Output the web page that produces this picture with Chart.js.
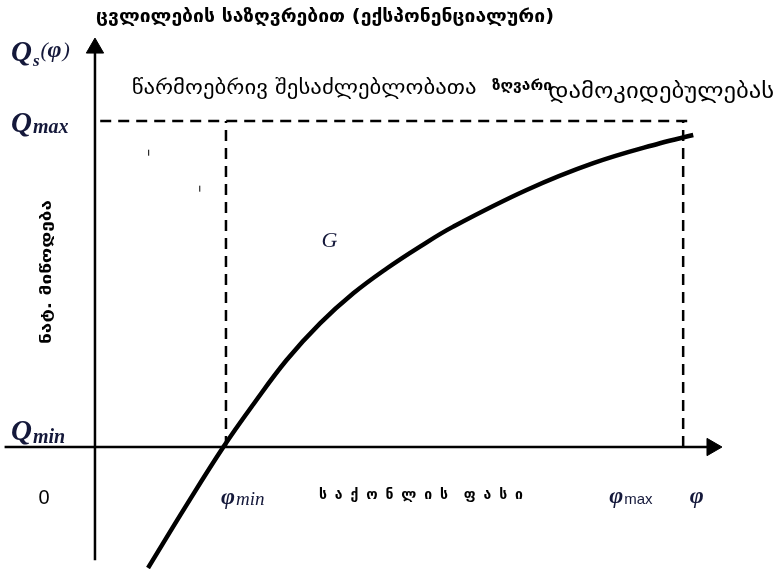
<!DOCTYPE html>
<html>
<head>
<meta charset="utf-8">
<script src="https://cdn.jsdelivr.net/npm/chart.js@4/dist/chart.umd.min.js"></script>
<style>
html,body{margin:0;padding:0;background:#fff;}
#wrap{width:778px;height:569px;position:relative;}
</style>
</head>
<body>
<div id="wrap"><canvas id="c" width="778" height="569"></canvas></div>
<script>
// ---- data (diagram units: φ along x, Q along y) ----
const curvePhi = [0.405, 0.695, 0.98, 1.208, 1.463, 1.718, 1.972, 2.227, 2.481, 2.735, 3.295, 3.804, 4.313, 4.567];
const curveQ   = [-3.70, -1.80, 0.00, 1.30, 2.66, 3.78, 4.70, 5.46, 6.13, 6.74, 7.86, 8.68, 9.29, 9.54];
const phiMin = 1.0;
const phiMax = 4.49;
const qMax = 9.97;
const qMin = 0;
const xAxisRange = [-0.69, 4.71];
const yAxisRange = [-3.46, 12.2];
const qMaxLineRange = [0.04, 4.56];
const smallTicksPhi = [0.41, 0.80];
const smallTicksQ = [9.0, 7.9];

const titleText = "ცვლილების საზღვრებით (ექსპონენციალური)";
const frontierText = "წარმოებრივ შესაძლებლობათა";
const frontierWord = "ზღვარი";
const dependText = "დამოკიდებულებას";
const yLabelText = "ნატ. მიწოდება";
const xLabelText = "საქონლის ფასი";
const originLabel = "0";

const pts = (xs, ys) => xs.map((x, i) => ({x, y: ys[i]}));

const dashed = {borderColor:'#000', borderWidth:2.5, borderDash:[11,7], pointRadius:0, fill:false, tension:0};
const solid = {borderColor:'#000', borderWidth:2.5, pointRadius:0, fill:false, tension:0};

const datasets = [
  Object.assign({data:[{x:xAxisRange[0],y:0},{x:xAxisRange[1],y:0}]}, solid),
  Object.assign({data:[{x:0,y:yAxisRange[0]},{x:0,y:yAxisRange[1]}]}, solid),
  // arrow heads
  {data:[{x:xAxisRange[1],y:0}], pointStyle:'triangle', rotation:90, pointRadius:10, backgroundColor:'#000', borderColor:'#000', borderWidth:1, showLine:false},
  {data:[{x:0,y:yAxisRange[1]}], pointStyle:'triangle', rotation:0, pointRadius:10, backgroundColor:'#000', borderColor:'#000', borderWidth:1, showLine:false},
  // dashed guides
  Object.assign({data:[{x:qMaxLineRange[0],y:qMax},{x:qMaxLineRange[1],y:qMax}]}, dashed),
  Object.assign({data:[{x:phiMin,y:qMin},{x:phiMin,y:qMax}]}, dashed),
  Object.assign({data:[{x:phiMax,y:qMin},{x:phiMax,y:qMax}]}, dashed),
  // small tick marks
  {data:pts(smallTicksPhi, smallTicksQ), pointStyle:'line', rotation:90, pointRadius:3, borderColor:'#000', borderWidth:1, showLine:false},
  // curve
  {data:pts(curvePhi, curveQ), borderColor:'#000', borderWidth:4.5, pointRadius:0, fill:false, tension:0.4, showLine:true}
];

const navy = '#14183a';
function fitText(ctx, text, x, y, w, font, color){
  ctx.save();
  ctx.font = font; ctx.fillStyle = color || '#000';
  ctx.textBaseline = 'middle'; ctx.textAlign = 'left';
  const m = ctx.measureText(text).width;
  ctx.translate(x, y); ctx.scale(w / m, 1);
  ctx.fillText(text, 0, 0);
  ctx.restore();
}
function spacedText(ctx, text, x, y, w, font, color){
  ctx.save();
  ctx.font = font; ctx.fillStyle = color || '#000';
  ctx.textBaseline = 'middle'; ctx.textAlign = 'left';
  const chars = [...text].filter(c => c !== ' ');
  const total = chars.reduce((s,c)=>s+ctx.measureText(c).width,0);
  const gaps = [...text].length - 1;
  const gap = (w - total) / gaps;
  let cx = x;
  for (const c of text) {
    if (c !== ' ') { ctx.fillText(c, cx, y); cx += ctx.measureText(c).width + gap; }
    else cx += gap;
  }
  ctx.restore();
}
function mathLabel(ctx, x, y, main, sub, mainFont, subFont, subDy, color){
  ctx.save();
  ctx.fillStyle = color; ctx.textBaseline = 'alphabetic'; ctx.textAlign = 'left';
  ctx.font = mainFont; ctx.fillText(main, x, y);
  const w = ctx.measureText(main).width;
  ctx.font = subFont; ctx.fillText(sub, x + w + 1, y + subDy);
  const w2 = ctx.measureText(sub).width;
  ctx.restore();
  return x + w + 1 + w2;
}

const labelsPlugin = {
  id:'labels',
  afterDatasetsDraw(chart){
    const ctx = chart.ctx;
    const xs = chart.scales.x, ys = chart.scales.y;
    const px = v => xs.getPixelForValue(v), py = v => ys.getPixelForValue(v);
    const geo = '"DejaVu Sans"';
    // title & top texts
    fitText(ctx, titleText, px(0) + 1, 18, 458, 'bold 17px ' + geo, '#000');
    fitText(ctx, frontierText, px(0.28), 89, 345, '19px ' + geo, '#000');
    fitText(ctx, frontierWord, px(3.03), 86, 60, 'bold 15px ' + geo, '#000');
    fitText(ctx, dependText, px(3.46), 93, 226, '21px ' + geo, '#000');
    // y axis label (rotated)
    ctx.save();
    ctx.translate(47, 272);
    ctx.rotate(-Math.PI/2);
    fitText(ctx, yLabelText, -72, 0, 144, 'bold 14px ' + geo, '#000');
    ctx.restore();
    // Q labels
    const qFont = 'bold italic 29px "Liberation Serif"';
    const subFont = 'bold italic 20px "Liberation Serif"';
    let e = mathLabel(ctx, 11, 61, 'Q', 's', qFont, 'bold italic 17px "Liberation Serif"', 5, navy);
    ctx.save(); ctx.fillStyle = navy; ctx.font = 'italic 22px "Liberation Serif"';
    ctx.fillText('(', e + 1, 57);
    ctx.font = 'bold italic 24px "Liberation Serif"';
    ctx.fillText('φ', e + 8, 57);
    const fw = ctx.measureText('φ').width;
    ctx.font = 'italic 22px "Liberation Serif"';
    ctx.fillText(')', e + 8 + fw + 1, 57);
    ctx.restore();
    mathLabel(ctx, 11, py(qMax) + 11, 'Q', 'max', qFont, subFont, 1, navy);
    mathLabel(ctx, 11, py(qMin) - 7, 'Q', 'min', qFont, subFont, 3, navy);
    // G
    ctx.save(); ctx.fillStyle = navy; ctx.font = 'italic 22px "Liberation Serif"';
    ctx.textBaseline = 'middle'; ctx.fillText('G', px(1.73), py(6.3)); ctx.restore();
    // bottom labels
    ctx.save(); ctx.fillStyle = '#000'; ctx.font = '20px "Liberation Sans"';
    ctx.textBaseline = 'middle'; ctx.textAlign = 'center';
    ctx.fillText(originLabel, 44, 498); ctx.restore();
    mathLabel(ctx, px(phiMin) - 5, 504, 'φ', 'min', 'bold italic 24px "Liberation Serif"', 'italic 19px "Liberation Serif"', 1, navy);
    spacedText(ctx, xLabelText, px(1.71), 495, 204, 'bold 14px ' + geo, '#000');
    mathLabel(ctx, px(phiMax) - 74, 503, 'φ', 'max', 'bold italic 24px "Liberation Serif"', '15px "Liberation Sans"', 1, navy);
    ctx.save(); ctx.fillStyle = navy; ctx.font = 'bold italic 24px "Liberation Serif"';
    ctx.fillText('φ', px(4.54), 503); ctx.restore();
  }
};

new Chart(document.getElementById('c'), {
  type:'scatter',
  data:{datasets},
  options:{
    responsive:false, animation:false, devicePixelRatio:1,
    layout:{padding:0, autoPadding:false},
    plugins:{legend:{display:false}, tooltip:{enabled:false}},
    datasets:{scatter:{showLine:true}},
    scales:{
      x:{type:'linear', display:false, min:-0.725, max:5.214},
      y:{type:'linear', display:false, min:-3.73, max:13.67}
    }
  },
  plugins:[labelsPlugin]
});
</script>
</body>
</html>
